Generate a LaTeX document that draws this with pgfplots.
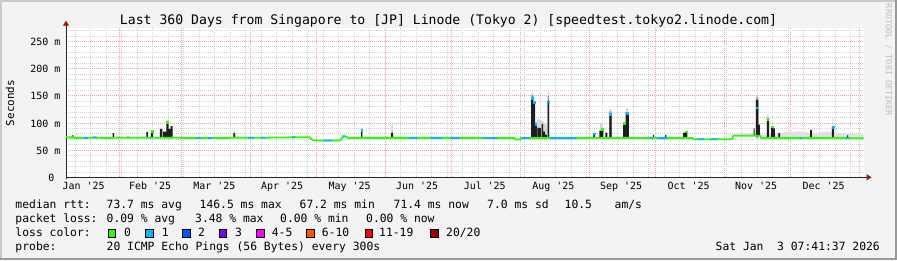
\documentclass[border=0pt]{standalone}
\usepackage{fontspec}
\setmonofont{DejaVu Sans Mono}
\usepackage{pgfplots}
\pgfplotsset{compat=1.18}
\usetikzlibrary{arrows.meta}
\definecolor{rrdback}{HTML}{F3F3F3}
\definecolor{shadea}{HTML}{CBCBCB}
\definecolor{shadeb}{HTML}{999999}
\definecolor{mgridc}{HTML}{F2A0A0}
\definecolor{gridc}{HTML}{D4D4D4}
\definecolor{arrowred}{HTML}{9B1C1C}
\definecolor{smokedark}{HTML}{1E1E1E}
\definecolor{smokemid}{HTML}{9A9A9A}
\definecolor{smokehalo}{HTML}{D6D6D6}
\definecolor{smokelight}{HTML}{E0E0E0}
\definecolor{loss0}{HTML}{26FF00}
\definecolor{loss1}{HTML}{00B8FF}
\definecolor{loss2}{HTML}{0059FF}
\definecolor{loss3}{HTML}{7E00FF}
\definecolor{loss5}{HTML}{FF00FF}
\definecolor{loss10}{HTML}{FF5500}
\definecolor{loss19}{HTML}{FF0000}
\definecolor{loss20}{HTML}{A10000}
\newcommand{\lgd}{\ttfamily\fontsize{11.4}{13}\selectfont}
\begin{document}
\begin{tikzpicture}[x=1bp,y=1bp]
\fill[rrdback] (0,0) rectangle (897,260);
\fill[shadea] (0,258) rectangle (897,260);
\fill[shadea] (0,0) rectangle (2,260);
\fill[shadeb] (0,0) rectangle (897,2);
\fill[shadeb] (895,0) rectangle (897,260);
\begin{axis}[
  scale only axis, width=797.6bp, height=149.6bp,
  at={(66bp,82.7bp)}, anchor=south west,
  xmin=7, xmax=367, ymin=0, ymax=275,
  axis x line=bottom, axis y line=left,
  axis line style={draw=black!85, line width=0.8bp},
  x axis line style={-{Triangle[width=6bp,length=5bp,color=arrowred]}, shorten >=-8bp},
  y axis line style={-{Triangle[width=6bp,length=5bp,color=arrowred]}, shorten >=-7bp, shorten <=-2bp},
  axis background/.style={fill=white},
  xtick={31,59,90,120,151,181,212,243,273,304,334,365},
  xticklabels={},
  minor xtick={11,18,...,361},
  ytick={0,50,100,150,200,250},
  yticklabels={0~~,50 m,100 m,150 m,200 m,250 m},
  minor ytick={10,20,...,270},
  grid=both,
  major grid style={draw=mgridc, line width=0.6bp, dash pattern=on 1bp off 1bp},
  minor grid style={draw=gridc, line width=0.6bp, dash pattern=on 1bp off 1bp},
  major tick length=0pt, minor tick length=0pt,
  extra x ticks={15,45,74,104.5,135,165.5,196,227,257.5,288,318.5,349},
  extra x tick labels={Jan '25,Feb '25,Mar '25,Apr '25,May '25,Jun '25,Jul '25,Aug '25,Sep '25,Oct '25,Nov '25,Dec '25},
  extra x tick style={grid=none},
  xticklabel style={font=\ttfamily\fontsize{10}{12}\selectfont, anchor=base, inner sep=0pt, yshift=-12.5bp},
  yticklabel style={font=\ttfamily\fontsize{10}{12}\selectfont, anchor=east, inner sep=0pt, xshift=-5.5bp, yshift=-0.5bp},
  unbounded coords=jump,
]
% light smoke band (Nov-Dec)
\addplot[fill=smokelight, draw=none] coordinates {
 (308,76) (308,80) (312,82) (316,81) (320.5,83) (321,78) (326,80) (332,83) (338,84) (344,81) (350,84) (356,82) (362,80) (367,79) (367,71) (321,71) (320.5,76)
};
% smoke halos
\addplot[fill=smokehalo, draw=none] coordinates {
 (52.3,72) (52.3,106) (53.1,106) (53.1,72) (53.1,nan)
 (82.6,72) (82.6,86) (83.2,86) (83.2,72) (83.2,nan)
 (153.9,72) (153.9,96) (154.5,96) (154.5,72) (154.5,nan)
 (217.2,72) (217.2,155) (217.8,155) (217.8,72) (217.8,nan)
 (219.5,72) (219.5,108) (222,104) (224,95) (224,72) (224,nan)
 (224.5,72) (224.5,158) (225.0,158) (225.0,72) (225.0,nan)
 (245.1,72) (245.1,90) (245.6,90) (245.6,72) (245.6,nan)
 (248.0,72) (248.0,100) (249.3,100) (249.3,72) (249.3,nan)
 (252.4,72) (252.4,125) (253.1,125) (253.1,72) (253.1,nan)
 (259.8,72) (259.8,127) (260.8,127) (260.8,72) (260.8,nan)
 (318.6,72) (318.6,151) (319.3,151) (319.3,72) (319.3,nan)
 (323.5,72) (323.5,115) (324.1,115) (324.1,72) (324.1,nan)
 (352.9,72) (352.9,108) (353.4,108) (353.4,72)
};
% mid-grey smoke
\addplot[fill=smokemid, draw=none] coordinates {
 (217.0,72) (217.0,151) (218.0,151) (218.0,72) (218.0,nan)
 (224.4,72) (224.4,149) (225.1,149) (225.1,72) (225.1,nan)
 (318.4,72) (318.4,147) (319.5,147) (319.5,72) (319.5,nan)
 (252.2,72) (252.2,121) (253.3,121) (253.3,72)
};
% dark smoke bars
\addplot[fill=smokedark, draw=none] coordinates {
 (9.7,72) (9.7,77) (10.4,77) (10.4,72) (10.4,nan)
 (28.0,72) (28.0,81) (28.7,81) (28.7,72) (28.7,nan)
 (34.8,72) (34.8,76) (35.2,76) (35.2,72) (35.2,nan)
 (43.3,72) (43.3,83) (44.0,83) (44.0,72) (44.0,nan)
 (45.4,72) (45.4,86) (46.3,86) (46.3,72) (46.3,nan)
 (49.4,72) (49.4,89) (50.5,89) (50.5,72) (50.5,nan)
 (50.8,72) (50.8,84) (52.3,84) (52.3,103) (53.3,103) (53.3,89) (54.2,89) (54.2,94) (55.1,94) (55.1,72) (55.1,nan)
 (82.5,72) (82.5,81) (83.3,81) (83.3,72) (83.3,nan)
 (140.2,72) (140.2,89) (140.8,89) (140.8,72) (140.8,nan)
 (153.7,72) (153.7,82) (154.6,82) (154.6,72) (154.6,nan)
 (216.9,72) (216.9,148) (218.0,148) (218.0,140) (218.7,140) (218.7,100) (219.5,100) (219.5,72) (219.5,nan)
 (219.7,72) (219.7,91) (221.3,91) (221.3,72) (221.3,nan)
 (221.7,72) (221.7,98) (222.4,98) (222.4,84) (223.2,84) (223.2,78) (224.0,78) (224.0,72) (224.0,nan)
 (224.4,72) (224.4,141) (225.1,141) (225.1,72) (225.1,nan)
 (245.0,72) (245.0,81) (245.7,81) (245.7,72) (245.7,nan)
 (247.7,72) (247.7,86) (248.6,86) (248.6,90) (249.5,90) (249.5,72) (249.5,nan)
 (250.4,72) (250.4,82) (251.3,82) (251.3,72) (251.3,nan)
 (252.2,72) (252.2,118) (253.3,118) (253.3,72) (253.3,nan)
 (258.5,72) (258.5,100) (259.6,100) (259.6,120) (261.0,120) (261.0,72) (261.0,nan)
 (271.9,72) (271.9,78) (272.5,78) (272.5,72) (272.5,nan)
 (277.4,72) (277.4,78) (278.0,78) (278.0,72) (278.0,nan)
 (285.5,72) (285.5,82) (286.4,82) (286.4,85) (287.4,85) (287.4,72) (287.4,nan)
 (317.3,76) (317.3,90) (317.8,90) (317.8,76) (317.8,nan)
 (318.4,76) (318.4,142) (319.5,142) (319.5,97) (320.2,97) (320.2,76) (320.2,nan)
 (323.3,72) (323.3,109) (324.3,109) (324.3,72) (324.3,nan)
 (325.2,72) (325.2,94) (326.2,94) (326.2,90) (327.0,90) (327.0,72) (327.0,nan)
 (328.5,72) (328.5,81) (329.3,81) (329.3,72) (329.3,nan)
 (342.8,72) (342.8,87) (343.7,87) (343.7,72) (343.7,nan)
 (352.7,72) (352.7,94) (353.6,94) (353.6,72) (353.6,nan)
 (359.5,72) (359.5,77) (360.0,77) (360.0,72)
};
% median rtt, loss 0 (green)
\addplot[draw=loss0, line width=1.8bp] coordinates {
 (7,73.5) (8.5,73.5) (9,72.5) (9.7,74.5) (10.4,72.5) (14,72.5) (20,73) (26,72) (30,73) (36,72.5)
 (42,73) (48,72.5) (56,73) (62,72) (70,72.5) (78,72) (84,73) (90,72.5) (100,73) (110,73.5)
 (117,73.5) (117.6,70.5) (118.8,67.8) (124,67.5) (130,67.5) (130.8,68) (131.5,72) (132.3,76)
 (133.5,74.5) (134.3,72.5) (140,72.5) (150,72.5) (160,72.5) (170,72.5) (180,72.5) (190,72.5)
 (200,72) (209.5,72) (209.8,69.5) (212,69.5) (212.3,72) (230,72) (240,72) (260,72.5) (270,72)
 (280,72) (289.8,72) (290.2,70) (307.6,70) (308.2,76.5) (320.3,76.5) (320.8,72) (330,72)
 (340,72) (350,72) (360,72) (367,71.5)
};
% median rtt, loss 1 (blue segments)
\addplot[draw=loss1, line width=1.8bp] coordinates {
 (15,72.5) (17,72.5) (17,nan)
 (19,73) (21,73) (21,nan)
 (44.8,73) (45.6,73) (45.6,nan)
 (66,72.2) (68,72.2) (68,nan)
 (71,72.3) (73,72.3) (73,nan)
 (89,72.6) (92,72.6) (92,nan)
 (95,72.8) (97,72.8) (97,nan)
 (109,73.4) (110.5,73.5) (110.5,nan)
 (123,67.5) (127,67.5) (127,nan)
 (132,75) (133,75.5) (133,nan)
 (162,72.5) (165.5,72.5) (165.5,nan)
 (171.5,72.5) (177,72.5) (177,nan)
 (180.5,72.5) (184.5,72.5) (184.5,nan)
 (195,72.3) (201.5,72) (201.5,nan)
 (212.5,72) (216.5,72) (216.5,nan)
 (225.5,72) (237.5,72) (237.5,nan)
 (270.6,72) (272,72) (272,nan)
 (274,72) (278.3,72) (278.3,nan)
 (292,70) (295,70) (295,nan)
 (298,70) (301,70) (301,nan)
 (338,72) (339,72) (339,nan)
 (359,72) (360.5,72)
};
% median points at spike tops
\addplot[only marks, mark=square*, mark size=0.9bp, color=loss1] coordinates {
 (217.3,146) (218.3,138) (219,98) (224.7,139) (252.6,116) (260.2,118) (318.8,128) (353.1,92) (140.5,87) (245.3,80)
};
\addplot[only marks, mark=square*, mark size=0.9bp, color=loss0] coordinates {
 (52.8,102) (45.8,85) (258.9,99) (323.7,107) (248.9,89) (286.9,84) (325.6,93)
};
\end{axis}
% title
\node[anchor=base, inner sep=0pt, font=\ttfamily\fontsize{13.2}{15}\selectfont] at (448.5,235.8) {Last 360 Days from Singapore to [JP] Linode (Tokyo 2) [speedtest.tokyo2.linode.com]};
% y label
\node[rotate=90, inner sep=0pt, font=\ttfamily\fontsize{11}{13}\selectfont] at (10,157) {Seconds};
% watermark
\node[rotate=-90, inner sep=0pt, text=black!25, font=\ttfamily\fontsize{8.5}{10}\selectfont] at (888.5,200) {RRDTOOL / TOBI OETIKER};
% legend rows
\begin{scope}[every node/.style={anchor=base west, inner sep=0pt, font=\lgd}]
\node at (15.3,51.2) {median rtt:};
\node at (106.5,51.2) {73.7 ms avg};
\node at (199.5,51.2) {146.5 ms max};
\node at (299.5,51.2) {67.2 ms min};
\node at (393.5,51.2) {71.4 ms now};
\node at (487,51.2) {7.0 ms sd};
\node at (564.5,51.2) {10.5};
\node at (614.5,51.2) {am/s};
\node at (15.3,37.2) {packet loss:};
\node at (106.5,37.2) {0.09 \% avg};
\node at (195,37.2) {3.48 \% max};
\node at (280,37.2) {0.00 \% min};
\node at (366,37.2) {0.00 \% now};
\node at (15.3,23.2) {loss color:};
\node at (124,23.2) {0};
\node at (161.7,23.2) {1};
\node at (198,23.2) {2};
\node at (235,23.2) {3};
\node at (271.7,23.2) {4-5};
\node at (321.7,23.2) {6-10};
\node at (379,23.2) {11-19};
\node at (446,23.2) {20/20};
\node at (15.3,9.5) {probe:};
\node at (106.5,9.5) {20 ICMP Echo Pings (56 Bytes) every 300s};
\end{scope}
\node[anchor=base east, inner sep=0pt, font=\lgd] at (880,9.5) {Sat Jan~~3 07:41:37 2026};
% loss colour boxes
\foreach \bx/\bc in {108.3/loss0,145.7/loss1,182.7/loss2,219/loss3,256.7/loss5,306.7/loss10,365/loss19,430.7/loss20}{
  \filldraw[fill=\bc, draw=black, line width=0.7bp] (\bx,23.1) rectangle ++(7.5,7.5);
}
\pgfresetboundingbox
\path[use as bounding box] (0,0) rectangle (897,260);
\end{tikzpicture}
\end{document}
